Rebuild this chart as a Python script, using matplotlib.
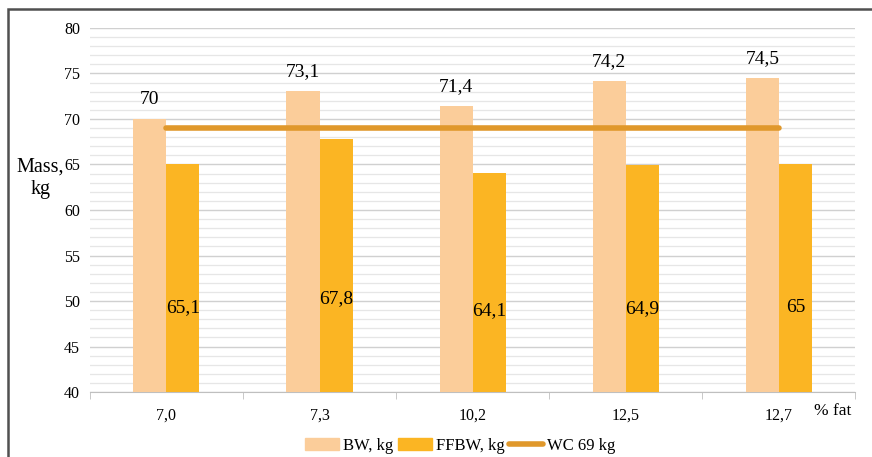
import matplotlib
matplotlib.use("Agg")
import matplotlib.pyplot as plt
from matplotlib.patches import Rectangle
from matplotlib.lines import Line2D
import numpy as np

plt.rcParams['font.family'] = ['Liberation Serif', 'DejaVu Serif']

categories = ["7,0", "7,3", "10,2", "12,5", "12,7"]
bw = [70.0, 73.1, 71.4, 74.2, 74.5]
ffbw = [65.1, 67.8, 64.1, 64.9, 65.0]
bw_labels = ["70", "73,1", "71,4", "74,2", "74,5"]
ffbw_labels = ["65,1", "67,8", "64,1", "64,9", "65"]
wc = 69

c_bw = "#FBCD9A"
c_ffbw = "#FBB523"
c_wc = "#E0982B"

fig = plt.figure(figsize=(8.72, 4.57), dpi=100)
ax = fig.add_axes([0.103, 0.142, 0.878, 0.797])

x = np.arange(len(categories))
w = 0.216
ax.bar(x - w / 2, bw, width=w, color=c_bw, bottom=0, zorder=3)
ax.bar(x + w / 2, ffbw, width=w, color=c_ffbw, bottom=0, zorder=3)
ax.plot([x[0], x[-1]], [wc, wc], color=c_wc, lw=4, solid_capstyle='round', zorder=4)

for xi, v, lab in zip(x, bw, bw_labels):
    ax.text(xi - w / 2, v + 1.2, lab, ha='center', va='bottom', fontsize=14, zorder=5)
for xi, v, lab in zip(x, ffbw, ffbw_labels):
    ax.text(xi + w / 2, 40 + (v - 40) * 0.37, lab, ha='center', va='center', fontsize=14, zorder=5)

ax.set_xlim(-0.5, len(categories) - 0.5)
ax.set_ylim(40, 80)
ax.set_yticks(np.arange(40, 81, 5))
ax.set_yticks(np.arange(40, 81, 1), minor=True)
ax.grid(axis='y', which='major', color='#D0D0D0', lw=1.0, zorder=0)
ax.grid(axis='y', which='minor', color='#E6E6E6', lw=0.9, zorder=0)
ax.tick_params(axis='y', which='both', length=0, labelsize=11.5, pad=7)
ax.set_xticks(x)
ax.set_xticklabels(categories, fontsize=11.5)
ax.set_xticks(np.arange(-0.5, len(categories), 1), minor=True)
ax.tick_params(axis='x', which='major', length=0, pad=11)
ax.tick_params(axis='x', which='minor', length=5, color='#BFBFBF', direction='out')
for s in ['top', 'right', 'left']:
    ax.spines[s].set_visible(False)
ax.spines['bottom'].set_color('#BFBFBF')

fig.text(0.0465, 0.61, "Mass,\nkg", fontsize=14.5, ha='center', va='center', linespacing=1.25)
fig.text(0.955, 0.10, "% fat", fontsize=12.5, ha='center', va='center')

handles = [Rectangle((0, 0), 1, 1, color=c_bw),
           Rectangle((0, 0), 1, 1, color=c_ffbw),
           Line2D([0], [0], color=c_wc, lw=4, solid_capstyle='round')]
fig.legend(handles, ["BW, kg", "FFBW, kg", "WC 69 kg"], loc='center', bbox_to_anchor=(0.528, 0.024),
           ncol=3, frameon=False, fontsize=12, handlelength=2.0, handleheight=0.75,
           columnspacing=0.3, handletextpad=0.25, borderpad=0)

# frame that runs off the right and bottom edges
fig.add_artist(Rectangle((0.009, -0.05), 1.1, 1.03, transform=fig.transFigure,
                         fill=False, edgecolor='#505050', lw=1.8))

fig.savefig("out.png", dpi=100)
